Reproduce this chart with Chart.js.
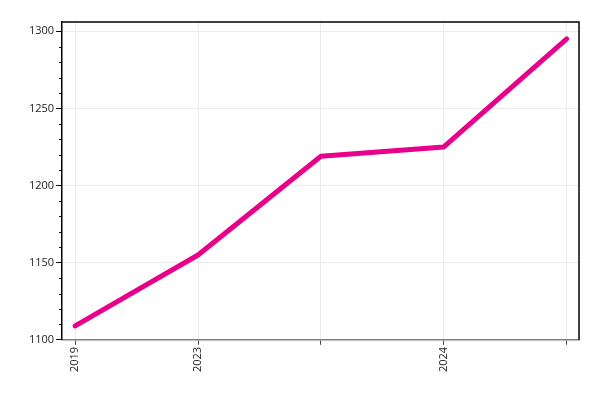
<!DOCTYPE html>
<html lang="en">
<head>
  <meta charset="UTF-8">
  <title>Line chart</title>
  <style>
    body { margin: 0; padding: 0; background: #fff; }
    #wrap { width: 600px; height: 400px; }
  </style>
</head>
<body>
<div id="wrap"><canvas id="lineChart"></canvas></div>

<script src="https://cdn.jsdelivr.net/npm/chart.js"></script>
<script>
  // data
  const xLabels = ['2019', '2023', '', '2024', ''];
  const values = [1109, 1155, 1219, 1225, 1295];
  const yTicks = [1100, 1150, 1200, 1250, 1300];

  const points = values.map((v, i) => ({ x: i, y: v }));

  // small ticks every 10 on the y axis, plus top/right frame
  const extras = {
    id: 'extras',
    afterDraw(chart) {
      const ctx = chart.ctx;
      const a = chart.chartArea;
      const y = chart.scales.y;
      ctx.save();
      ctx.strokeStyle = '#000';
      ctx.lineWidth = 1;
      for (let v = 1100; v <= 1300; v += 10) {
        if (v % 50 === 0) continue;
        const py = Math.round(y.getPixelForValue(v)) + 0.5;
        ctx.beginPath();
        ctx.moveTo(a.left - 3, py);
        ctx.lineTo(a.left, py);
        ctx.stroke();
      }
      ctx.lineWidth = 1.5;
      ctx.beginPath();
      ctx.moveTo(a.left, a.top);
      ctx.lineTo(a.right, a.top);
      ctx.lineTo(a.right, a.bottom);
      ctx.stroke();
      ctx.restore();
    }
  };

  new Chart(document.getElementById('lineChart'), {
    type: 'line',
    data: {
      datasets: [{
        data: points,
        borderColor: '#e8008b',
        borderWidth: 5,
        borderCapStyle: 'round',
        borderJoinStyle: 'round',
        pointRadius: 0,
        tension: 0
      }]
    },
    options: {
      responsive: true,
      maintainAspectRatio: false,
      animation: false,
      layout: { padding: { left: 27, right: 21, top: 22, bottom: 26 } },
      plugins: { legend: { display: false }, tooltip: { enabled: false } },
      scales: {
        x: {
          type: 'linear',
          min: -0.106,
          max: 4.1,
          afterBuildTicks: axis => { axis.ticks = xLabels.map((_, i) => ({ value: i })); },
          ticks: {
            minRotation: 90,
            maxRotation: 90,
            padding: 2,
            color: '#222',
            font: { family: 'Open Sans', size: 11 },
            callback: v => xLabels[v] ?? ''
          },
          grid: { color: '#ececec', tickColor: '#444', tickLength: 5 },
          border: { color: '#808080', width: 1.5 }
        },
        y: {
          min: 1100,
          max: 1306,
          afterBuildTicks: axis => { axis.ticks = yTicks.map(v => ({ value: v })); },
          ticks: {
            padding: 2,
            color: '#222',
            font: { family: 'Open Sans', size: 11 },
            callback: v => String(v)
          },
          grid: { color: '#ececec', tickColor: '#000', tickLength: 6 },
          border: { color: '#000', width: 1.5 }
        }
      }
    },
    plugins: [extras]
  });
</script>
</body>
</html>
